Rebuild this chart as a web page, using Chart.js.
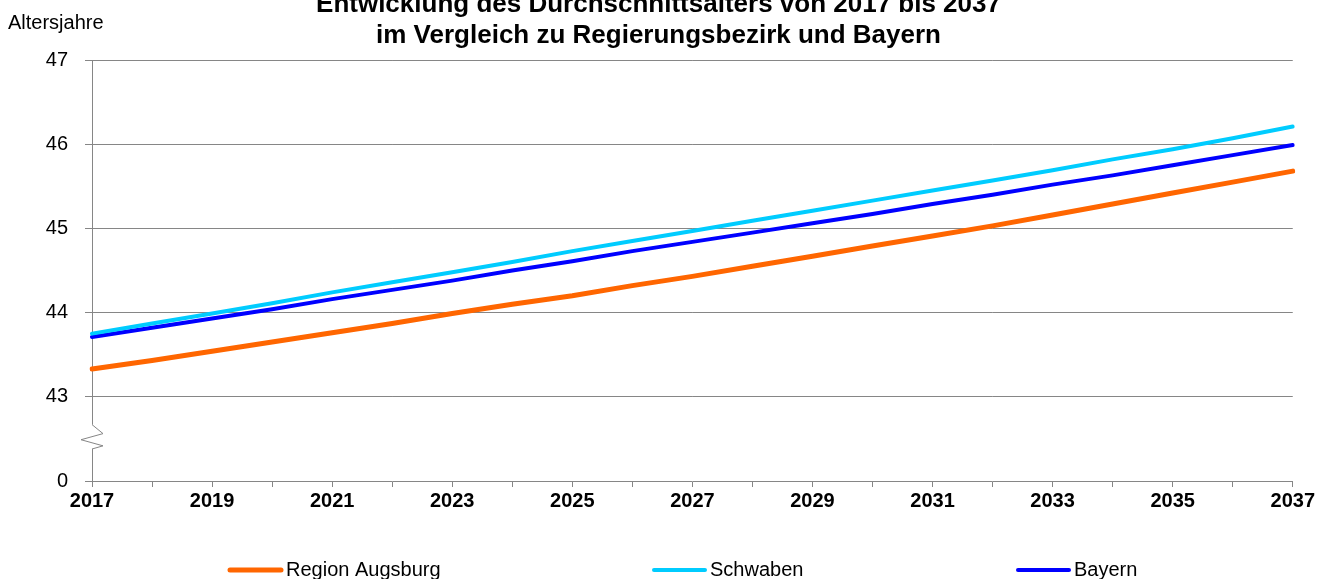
<!DOCTYPE html>
<html>
<head>
<meta charset="utf-8">
<script src="https://cdn.jsdelivr.net/npm/chart.js@4.4.1/dist/chart.umd.min.js"></script>
<style>
  html, body { margin: 0; padding: 0; background: #fff; }
  #wrap { width: 1317px; height: 579px; position: relative; }
</style>
</head>
<body>
<div id="wrap"><canvas id="c" width="1317" height="579"></canvas></div>
<script>
// ---- Data ----
const years = ['2017','2018','2019','2020','2021','2022','2023','2024','2025','2026','2027',
               '2028','2029','2030','2031','2032','2033','2034','2035','2036','2037'];
const regionAugsburg = [43.33, 43.43, 43.54, 43.65, 43.76, 43.87, 43.99, 44.10, 44.20, 44.32, 44.43,
                        44.55, 44.67, 44.79, 44.91, 45.03, 45.16, 45.29, 45.42, 45.55, 45.68];
const schwaben       = [43.75, 43.87, 43.99, 44.11, 44.24, 44.36, 44.48, 44.60, 44.73, 44.85, 44.97,
                        45.09, 45.21, 45.33, 45.45, 45.57, 45.69, 45.82, 45.94, 46.07, 46.21];
const bayern         = [43.71, 43.82, 43.93, 44.04, 44.16, 44.27, 44.38, 44.50, 44.61, 44.73, 44.84,
                        44.95, 45.06, 45.17, 45.29, 45.40, 45.52, 45.63, 45.75, 45.87, 45.99];
const seriesNames = ['Region Augsburg', 'Schwaben', 'Bayern'];
// broken y axis: the lowest tick (42 on the internal scale) is labelled "0"
const yTickValues = [42, 43, 44, 45, 46, 47];
const yTickLabels = ['0', '43', '44', '45', '46', '47'];
const titleLines = ['Entwicklung des Durchschnittsalters von 2017 bis 2037',
                    'im Vergleich zu Regierungsbezirk und Bayern'];
const yUnitLabel = 'Altersjahre';

// ---- Styling ----
const FONT = '"Liberation Sans", Arial, sans-serif';
const AXIS_GRAY = '#868686';
const colors = ['#FF6600', '#00CCFF', '#0000FF'];
const widths = [5, 4, 4];

const decor = {
  id: 'decor',
  beforeDraw(chart) {
    const ctx = chart.ctx;
    ctx.save();
    ctx.fillStyle = '#fff';
    ctx.fillRect(0, 0, chart.width, chart.height);
    ctx.restore();
  },
  afterDraw(chart) {
    const ctx = chart.ctx;
    const y = chart.scales.y;
    const area = chart.chartArea;
    ctx.save();
    // title
    ctx.fillStyle = '#000';
    ctx.textAlign = 'center';
    ctx.textBaseline = 'alphabetic';
    ctx.font = 'bold 26px ' + FONT;
    ctx.fillText(titleLines[0], chart.width / 2, 12);
    ctx.fillText(titleLines[1], chart.width / 2, 43);
    // unit label
    ctx.textAlign = 'left';
    ctx.font = '20px ' + FONT;
    ctx.fillText(yUnitLabel, 8, 29);
    // axis break
    const x0 = area.left;
    const yTop = y.getPixelForValue(42.67);
    const yBot = y.getPixelForValue(42.38);
    ctx.fillStyle = '#fff';
    ctx.fillRect(x0 - 3, yTop, 6, yBot - yTop);
    ctx.strokeStyle = AXIS_GRAY;
    ctx.lineWidth = 1;
    const h = yBot - yTop;
    ctx.beginPath();
    ctx.moveTo(x0, yTop);
    ctx.lineTo(x0 + 11, yTop + h * 0.37);
    ctx.lineTo(x0 - 11, yTop + h * 0.62);
    ctx.lineTo(x0 + 11, yTop + h * 0.87);
    ctx.lineTo(x0, yBot);
    ctx.stroke();
    // legend
    const legendX = [228, 652, 1016];
    const ly = 570;
    ctx.font = '20px ' + FONT;
    ctx.textAlign = 'left';
    chart.data.datasets.forEach((ds, i) => {
      ctx.strokeStyle = ds.borderColor;
      ctx.lineWidth = i === 0 ? 5 : 4;
      ctx.lineCap = 'round';
      ctx.beginPath();
      ctx.moveTo(legendX[i] + 2, ly);
      ctx.lineTo(legendX[i] + 53, ly);
      ctx.stroke();
      ctx.fillStyle = '#000';
      ctx.fillText(ds.label, legendX[i] + 58, 576);
    });
    ctx.restore();
  }
};

new Chart(document.getElementById('c'), {
  type: 'line',
  data: {
    labels: years,
    datasets: [
      { label: seriesNames[0], data: regionAugsburg, borderColor: colors[0], backgroundColor: colors[0], borderWidth: widths[0] },
      { label: seriesNames[1], data: schwaben,       borderColor: colors[1], backgroundColor: colors[1], borderWidth: widths[1] },
      { label: seriesNames[2], data: bayern,         borderColor: colors[2], backgroundColor: colors[2], borderWidth: widths[2] }
    ]
  },
  options: {
    responsive: false,
    animation: false,
    devicePixelRatio: 1,
    layout: { padding: { left: 0, right: 24, top: 60, bottom: 0 } },
    plugins: { legend: { display: false }, title: { display: false }, tooltip: { enabled: false } },
    elements: {
      point: { radius: 0 },
      line: { tension: 0, borderCapStyle: 'round', borderJoinStyle: 'round' }
    },
    scales: {
      x: {
        type: 'category',
        offset: false,
        grid: { drawOnChartArea: false, drawTicks: true, tickLength: 6, tickColor: AXIS_GRAY, tickWidth: 1 },
        border: { color: AXIS_GRAY, width: 1 },
        ticks: {
          autoSkip: false, maxRotation: 0, minRotation: 0, padding: 2, color: '#000',
          font: { family: FONT, size: 20, weight: 'bold' },
          callback: (v, i) => (i % 2 === 0 ? years[i] : '')
        },
        afterFit: (s) => { s.height = 98; }
      },
      y: {
        min: 42, max: 47,
        afterBuildTicks: (s) => { s.ticks = yTickValues.map(v => ({ value: v })); },
        grid: {
          color: (ctx) => (ctx.tick && ctx.tick.value === 42 ? 'rgba(0,0,0,0)' : AXIS_GRAY),
          lineWidth: 1, tickLength: 7, tickColor: AXIS_GRAY
        },
        border: { color: AXIS_GRAY, width: 1 },
        ticks: {
          padding: 17, color: '#000',
          font: { family: FONT, size: 20 },
          callback: (v) => yTickLabels[yTickValues.indexOf(v)]
        },
        afterFit: (s) => { s.width = 92; }
      }
    }
  },
  plugins: [decor]
});
</script>
</body>
</html>
